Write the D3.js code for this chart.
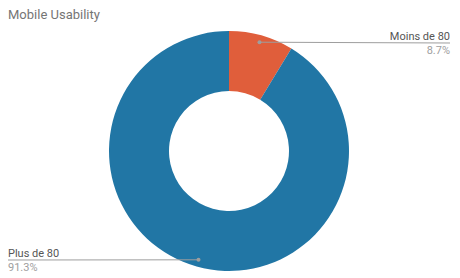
<!DOCTYPE html>
<html>
<head>
<meta charset="utf-8">
<script src="https://cdn.jsdelivr.net/npm/d3@7"></script>
<style>
  body { margin: 0; background: #fff; }
  svg { display: block; font-family: Roboto, "Noto Sans", sans-serif; }
</style>
</head>
<body>
<svg id="chart" width="460" height="278"></svg>
<script>
const categories = ["Moins de 80", "Plus de 80"];
const values = [8.7, 91.3];
const pctLabels = ["8.7%", "91.3%"];
const colors = ["#e05e3b", "#2176a5"];

const width = 460;
const height = 278;
const cx = 229;
const cy = 151;
const outerR = 120;
const innerR = 60;

const svg = d3.select("#chart");

svg
  .append("text")
  .attr("x", 8)
  .attr("y", 19)
  .attr("font-size", 13)
  .attr("fill", "#757575")
  .text("Mobile Usability");

const data = categories.map((c, i) => ({ name: c, value: values[i], pct: pctLabels[i], color: colors[i] }));

const pie = d3.pie().sort(null).value((d) => d.value);
const arc = d3.arc().innerRadius(innerR).outerRadius(outerR);
const dotArc = d3.arc().innerRadius(113).outerRadius(113);

const g = svg.append("g").attr("transform", `translate(${cx},${cy})`);
const arcs = pie(data);

g.selectAll("path.slice")
  .data(arcs)
  .join("path")
  .attr("class", "slice")
  .attr("d", arc)
  .attr("fill", (d) => d.data.color);

// label layout: first slice on the right, second on the left
const labelPos = [
  { x: 450, lineY: 43, anchor: "end", nameY: 40, pctY: 54 },
  { x: 8, lineY: 260, anchor: "start", nameY: 257, pctY: 271 },
];

arcs.forEach((d, i) => {
  const [dx, dy] = dotArc.centroid(d);
  const px = cx + dx;
  const py = cy + dy;
  const lp = labelPos[i];

  svg
    .append("path")
    .attr("d", d3.line()([[px, py], [lp.x, lp.lineY]]))
    .attr("fill", "none")
    .attr("stroke", "#9e9e9e")
    .attr("stroke-width", 1);

  svg
    .append("circle")
    .attr("cx", px)
    .attr("cy", py)
    .attr("r", 2)
    .attr("fill", "#9e9e9e");

  svg
    .append("text")
    .attr("x", lp.x)
    .attr("y", lp.nameY)
    .attr("text-anchor", lp.anchor)
    .attr("font-size", 11)
    .attr("fill", "#555")
    .text(d.data.name);

  svg
    .append("text")
    .attr("x", lp.x)
    .attr("y", lp.pctY)
    .attr("text-anchor", lp.anchor)
    .attr("font-size", 11)
    .attr("fill", "#9e9e9e")
    .text(d.data.pct);
});
</script>
</body>
</html>
